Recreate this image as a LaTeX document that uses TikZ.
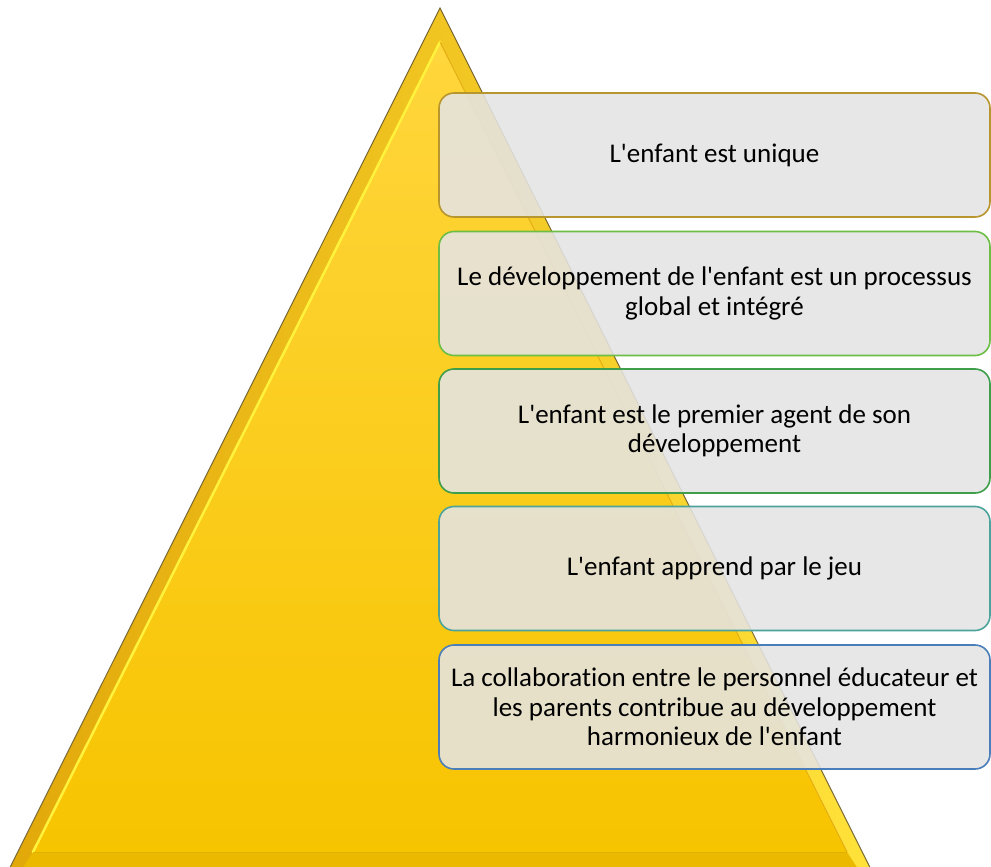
\documentclass[tikz,border=0pt]{standalone}
\usepackage{fontspec}
\setmainfont{Carlito}[Ligatures={TeXOff,NoCommon}]
\definecolor{goldL}{HTML}{E2A80A}
\definecolor{goldR}{HTML}{FFE23A}
\definecolor{pyrTop}{HTML}{FFD63C}
\definecolor{pyrBot}{HTML}{F7C400}
\definecolor{pyrEdge}{HTML}{7A6A35}
\definecolor{hiYel}{HTML}{FFF23C}
\definecolor{boxfill}{HTML}{E4E4E4}
\definecolor{bA}{HTML}{B8962E}
\definecolor{bB}{HTML}{6DBE45}
\definecolor{bC}{HTML}{3E9E4C}
\definecolor{bD}{HTML}{4CA39C}
\definecolor{bE}{HTML}{4A7EBB}
\begin{document}
\begin{tikzpicture}[x=1pt,y=-1pt,
  box/.style={draw, line width=1.6pt, rounded corners=15pt, fill=boxfill,
    fill opacity=0.88, text opacity=1, minimum width=551pt, minimum height=124pt,
    align=center, inner sep=0pt, text=black,
    font=\fontsize{27}{29.5}\selectfont}]
\useasboundingbox (0,0) rectangle (991,867);
\begin{scope}
  \clip (0,0) rectangle (991,867);
  % outer bevel of the pyramid
  \fill[left color=goldL, right color=goldR] (440,8) -- (7.5,872.5) -- (872.5,872.5) -- cycle;
  % base band
  \fill[pyrBot!95!black] (33,852) -- (847,852) -- (860,872) -- (20,872) -- cycle;
  % inner face
  \fill[top color=pyrTop, bottom color=pyrBot] (440,42) -- (33,852) -- (847,852) -- cycle;
  \draw[hiYel, line width=2.5pt, line cap=round] (33,852) -- (440,42);
  \draw[pyrBot!90!black, line width=1pt] (33,852) -- (847,852);
  \draw[goldL!80!pyrTop, line width=1pt] (440,42) -- (847,852);
  % outer outline
  \draw[pyrEdge, line width=1pt] (7.5,872.5) -- (440,8) -- (872.5,872.5);
\end{scope}
\node[box, draw=bA] (n1) at (714.5,155) {L'enfant est unique};
\node[box, draw=bB] (n2) at (714.5,293.5) {Le développement de l'enfant est un processus\\global et intégré};
\node[box, draw=bC] (n3) at (714.5,431) {L'enfant est le premier agent de son\\développement};
\node[box, draw=bD] (n4) at (714.5,568.5) {L'enfant apprend par le jeu};
\node[box, draw=bE] (n5) at (714.5,707) {La collaboration entre le personnel éducateur et\\les parents contribue au développement\\harmonieux de l'enfant};
\end{tikzpicture}
\end{document}
